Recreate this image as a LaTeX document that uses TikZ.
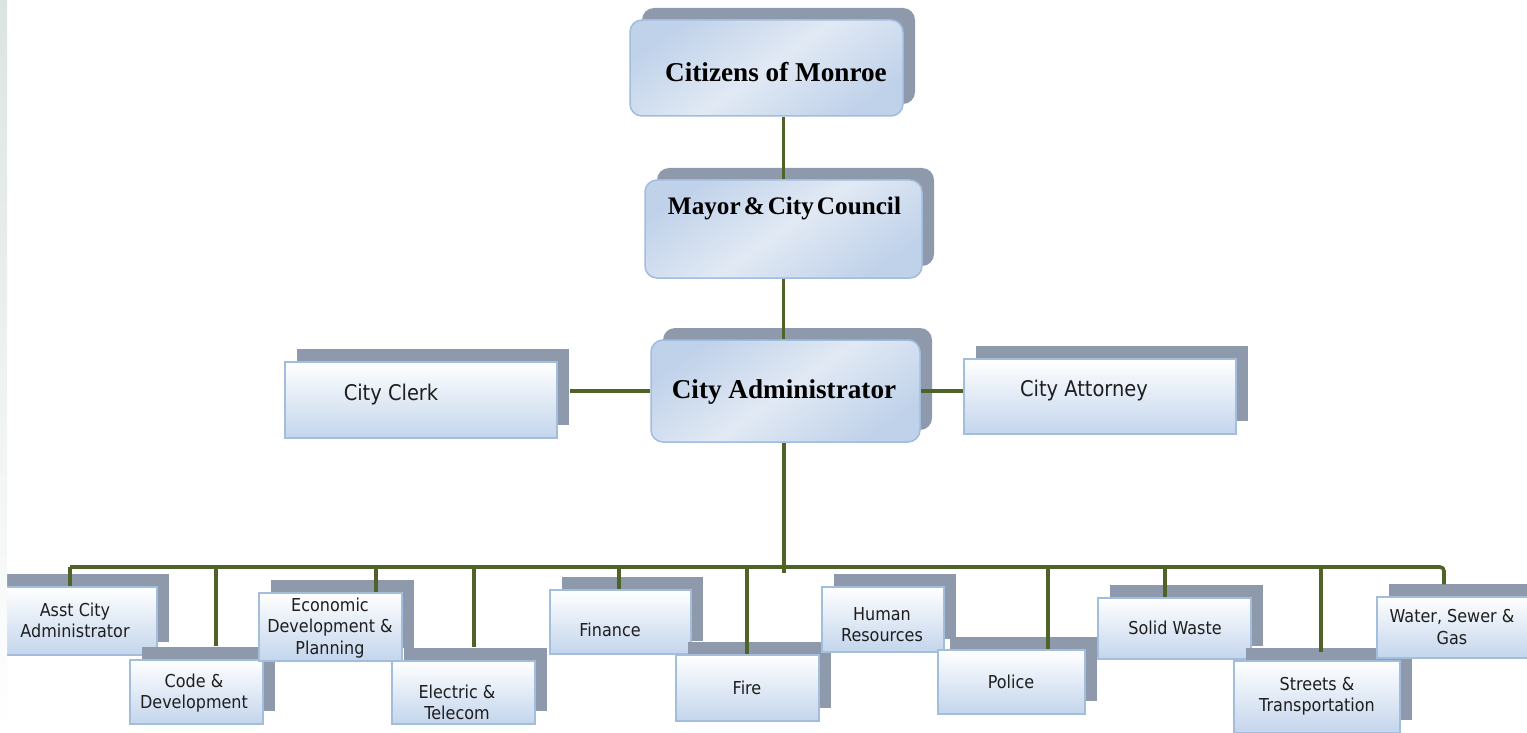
\documentclass[tikz,border=0pt]{standalone}
\usepackage{fontspec}
\setmainfont{Liberation Serif}
\newfontfamily\dvs[FakeStretch=0.9]{DejaVu Sans}
\usetikzlibrary{shadows,calc}
\definecolor{shgrey}{HTML}{8E9AAB}
\definecolor{conn}{HTML}{4F6228}
\definecolor{rborder}{HTML}{A0BCDF}
\definecolor{sborder}{HTML}{A3BDDD}
\definecolor{sblue}{HTML}{C3D5EC}
\definecolor{rlight}{HTML}{E1E9F4}
\definecolor{rdark}{HTML}{C0D2EA}
\definecolor{txtgrey}{HTML}{1E1E1E}
\definecolor{stripa}{HTML}{DCE4E2}
\begin{document}
\begin{tikzpicture}[x=0.5pt,y=-0.5pt,
  rbox/.style={draw=rborder, line width=0.75pt, rounded corners=6pt,
    top color=rdark, bottom color=rdark, middle color=rlight, shading angle=35,
    general shadow={fill=shgrey, shadow xshift=6pt, shadow yshift=6pt},
    inner sep=0pt},
  sbox/.style={draw=sborder, line width=0.6pt, top color=white, bottom color=sblue,
    general shadow={fill=shgrey, shadow xshift=5.75pt, shadow yshift=6.5pt},
    inner sep=0pt},
  titletxt/.style={font=\bfseries\fontsize{13.6}{16}\selectfont, inner sep=0pt},
  midtxt/.style={font=\dvs\fontsize{10.8}{13}\selectfont, text=txtgrey, inner sep=0pt},
  stxt/.style={font=\dvs\fontsize{8.9}{10.6}\selectfont, align=center, text=txtgrey, inner sep=0pt},
  link/.style={draw=conn, line width=1.8pt}]
\useasboundingbox (0,0) rectangle (1527,733);
\fill[white] (0,0) rectangle (1527,733);

% top chain
\node[rbox, minimum width=136.5pt, minimum height=48pt] (cit) at (766.5,68) {};
\node[rbox, minimum width=138.5pt, minimum height=49pt] (mayor) at (783.5,229) {};
\node[rbox, minimum width=134.5pt, minimum height=51pt] (admin) at (785.5,391) {};
\node[sbox, minimum width=136pt, minimum height=38pt] (clerk) at (421,400) {};
\node[sbox, minimum width=136pt, minimum height=37.5pt] (atty) at (1100,396.5) {};

\node[titletxt] (citT) at (776,72) {Citizens of Monroe};
\node[titletxt, font=\bfseries\fontsize{12.6}{16}\selectfont] (mayorT) at (784.5,208) {Mayor\hspace{0.12em}\&\hspace{0.12em}City\hspace{0.12em}Council};
\node[titletxt] (adminT) at (784,392) {City Administrator};
\node[midtxt] (clerkT) at (391,395) {City Clerk};
\node[midtxt] (attyT) at (1084,391) {City Attorney};

% departments
\node[sbox, minimum width=81pt, minimum height=34pt] (asst) at (76,621) {};
\node[sbox, minimum width=66.5pt, minimum height=32pt] (code) at (196.5,692) {};
\node[sbox, minimum width=71.5pt, minimum height=34pt] (econ) at (330.5,627) {};
\node[sbox, minimum width=71.5pt, minimum height=31.5pt] (elec) at (463.5,692.5) {};
\node[sbox, minimum width=70.5pt, minimum height=32pt] (fin) at (620.5,622) {};
\node[sbox, minimum width=71.5pt, minimum height=33pt] (fire) at (747.5,688) {};
\node[sbox, minimum width=61pt, minimum height=32.5pt] (hr) at (883,619.5) {};
\node[sbox, minimum width=73.5pt, minimum height=32pt] (police) at (1011.5,682) {};
\node[sbox, minimum width=76.5pt, minimum height=30.5pt] (solid) at (1174.5,628.5) {};
\node[sbox, minimum width=83pt, minimum height=36pt] (streets) at (1317,697) {};
\node[sbox, minimum width=76.5pt, minimum height=30.5pt] (water) at (1453.5,627.5) {};

\node[stxt] (asstT) at (75,620) {Asst City\\Administrator};
\node[stxt] (codeT) at (194,693) {Code \&\\Development};
\node[stxt] (econT) at (330,628) {Economic\\Development \&\\Planning};
\node[stxt] (elecT) at (457,702) {Electric \&\\Telecom};
\node[stxt] (finT) at (610,630) {Finance};
\node[stxt] (fireT) at (747,688) {Fire};
\node[stxt] (hrT) at (882,625) {Human\\Resources};
\node[stxt] (policeT) at (1011,682) {Police};
\node[stxt] (solidT) at (1175,628) {Solid Waste};
\node[stxt] (streetsT) at (1317,696) {Streets \&\\Transportation};
\node[stxt] (waterT) at (1452,627) {Water, Sewer \&\\Gas};

% bus coordinates
\coordinate (b1) at (70,567);
\coordinate (b2) at (216,567);
\coordinate (b3) at (376,567);
\coordinate (b4) at (474,567);
\coordinate (b5) at (619,567);
\coordinate (b6) at (747,567);
\coordinate (bm) at (784,573);
\coordinate (b7) at (1048,567);
\coordinate (b8) at (1165,567);
\coordinate (b9) at (1321,567);
\coordinate (bw) at (1444,567);

% connectors
\draw[link] (mayor.north) -- (mayor.north |- cit.south);
\draw[link] (mayor.south) -- (mayor.south |- admin.north);
\draw[link] (admin.west) -- ($(admin.west -| clerk.east)+(12,0)$);
\draw[link] (admin.east) -- (admin.east -| atty.west);
\draw[link] (admin.south -| bm) -- (bm);
\draw[link, rounded corners=2pt] (b1) -- (bw) -- ($(bw |- water.north)+(0,-12)$);
\draw[link] (b1) -- (b1 |- asst.north);
\draw[link] (b2) -- ($(b2 |- code.north)+(0,-13)$);
\draw[link] (b3) -- (b3 |- econ.north);
\draw[link] (b4) -- ($(b4 |- elec.north)+(0,-13)$);
\draw[link] (b5) -- (b5 |- fin.north);
\draw[link] (b6) -- (b6 |- fire.north);
\draw[link] (b7) -- (b7 |- police.north);
\draw[link] (b8) -- (b8 |- solid.north);
\draw[link] (b9) -- ($(b9 |- streets.north)+(0,-8)$);

% left edge strip, on top
\shade[top color=stripa, bottom color=white] (0,0) rectangle (7,733);
\end{tikzpicture}
\end{document}
